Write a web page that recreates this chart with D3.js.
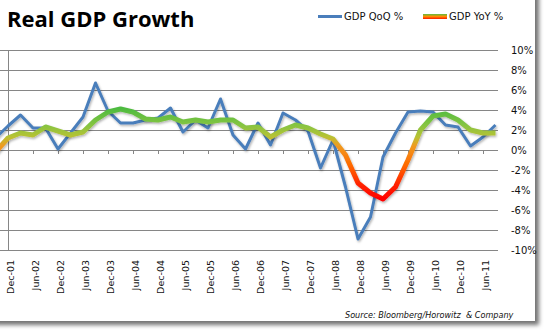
<!DOCTYPE html>
<html>
<head>
<meta charset="utf-8">
<script src="https://d3js.org/d3.v7.min.js"></script>
<style>
  body { margin: 0; background: #fff; }
  text { font-family: "DejaVu Sans", sans-serif; }
</style>
</head>
<body>
<svg id="chart" width="549" height="336"></svg>
<script>
// quarterly data, Sep-01 sits just left of the visible area (picture is cropped)
const quarters = ["Sep-01", "Dec-01",
  "Mar-02", "Jun-02", "Sep-02", "Dec-02",
  "Mar-03", "Jun-03", "Sep-03", "Dec-03",
  "Mar-04", "Jun-04", "Sep-04", "Dec-04",
  "Mar-05", "Jun-05", "Sep-05", "Dec-05",
  "Mar-06", "Jun-06", "Sep-06", "Dec-06",
  "Mar-07", "Jun-07", "Sep-07", "Dec-07",
  "Mar-08", "Jun-08", "Sep-08", "Dec-08",
  "Mar-09", "Jun-09", "Sep-09", "Dec-09",
  "Mar-10", "Jun-10", "Sep-10", "Dec-10",
  "Mar-11", "Jun-11", "Sep-11"];

const gdpQoQ = [1.2, 2.4,
  3.5, 2.2, 2.2, 0.1,
  1.7, 3.3, 6.7, 3.9,
  2.7, 2.7, 3.0, 3.2,
  4.2, 1.8, 3.0, 2.2,
  5.1, 1.5, 0.1, 2.7,
  0.5, 3.7, 3.0, 1.9,
  -1.8, 1.0, -3.7, -8.9,
  -6.7, -0.7, 1.7, 3.8,
  3.9, 3.8, 2.5, 2.3,
  0.4, 1.3, 2.5];

const gdpYoY = [-0.2, 1.2,
  1.7, 1.5, 2.3, 1.9,
  1.5, 1.8, 3.0, 3.8,
  4.1, 3.8, 3.1, 3.0,
  3.3, 2.8, 3.0, 2.8,
  3.0, 3.0, 2.2, 2.3,
  1.3, 2.0, 2.5, 2.2,
  1.6, 1.1, -0.5, -3.3,
  -4.3, -4.9, -3.7, -1.0,
  2.0, 3.4, 3.6, 3.0,
  2.0, 1.7, 1.7];

const tickLabels = ["Dec-01", "Jun-02", "Dec-02", "Jun-03", "Dec-03", "Jun-04", "Dec-04",
  "Jun-05", "Dec-05", "Jun-06", "Dec-06", "Jun-07", "Dec-07", "Jun-08", "Dec-08",
  "Jun-09", "Dec-09", "Jun-10", "Dec-10", "Jun-11"];

const yTicks = [10, 8, 6, 4, 2, 0, -2, -4, -6, -8, -10];

// colour of the YoY line depends on its value
const yoyStops = [
  { v: 4.2, c: "#4cbb3f" },
  { v: 2.5, c: "#85c442" },
  { v: 1.3, c: "#b9c233" },
  { v: 0.4, c: "#f09a20" },
  { v: -1.5, c: "#ff6a00" },
  { v: -3.5, c: "#ff2200" },
  { v: -5.0, c: "#ff0000" }
];

const svg = d3.select("#chart");
const defs = svg.append("defs");

const cardShadow = defs.append("filter").attr("id", "cardShadow")
  .attr("x", "-5%").attr("y", "-5%").attr("width", "115%").attr("height", "115%");
cardShadow.append("feDropShadow")
  .attr("dx", 4).attr("dy", 4).attr("stdDeviation", 2)
  .attr("flood-color", "#000").attr("flood-opacity", 0.55);

const lineShadow = defs.append("filter").attr("id", "lineShadow")
  .attr("x", "-5%").attr("y", "-10%").attr("width", "110%").attr("height", "125%");
lineShadow.append("feDropShadow")
  .attr("dx", 1).attr("dy", 1.5).attr("stdDeviation", 1)
  .attr("flood-color", "#000").attr("flood-opacity", 0.3);

// white card with drop shadow
svg.append("rect")
  .attr("x", -10).attr("y", -10)
  .attr("width", 545).attr("height", 331)
  .attr("fill", "#fff")
  .attr("filter", "url(#cardShadow)");

const x = d3.scalePoint().domain(quarters).range([-4.5, 495.5]);
const y = d3.scaleLinear().domain([-10, 10]).range([250, 50]);

// gridlines
svg.append("g").selectAll("line")
  .data(yTicks).enter().append("line")
  .attr("x1", 0).attr("x2", 498)
  .attr("y1", d => Math.round(y(d)) + 0.5)
  .attr("y2", d => Math.round(y(d)) + 0.5)
  .attr("stroke", "#868686").attr("stroke-width", 1);

// vertical axis line
svg.append("line")
  .attr("x1", x("Dec-01") + 0.5).attr("x2", x("Dec-01") + 0.5)
  .attr("y1", y(10)).attr("y2", y(-10))
  .attr("stroke", "#868686");

// category ticks on the 0% line
svg.append("g").selectAll("line")
  .data(tickLabels).enter().append("line")
  .attr("x1", d => Math.round(x(d)) + 0.5)
  .attr("x2", d => Math.round(x(d)) + 0.5)
  .attr("y1", y(0)).attr("y2", y(0) + 4)
  .attr("stroke", "#868686");

// category labels
svg.append("g").selectAll("text")
  .data(tickLabels).enter().append("text")
  .attr("transform", d => `translate(${x(d) + 6},260) rotate(-90)`)
  .attr("text-anchor", "end")
  .attr("font-size", 9.5)
  .attr("fill", "#111")
  .text(d => d);

// right value labels
svg.append("g").selectAll("text")
  .data(yTicks).enter().append("text")
  .attr("x", 511)
  .attr("y", d => y(d) + 4)
  .attr("font-size", 10)
  .attr("fill", "#111")
  .text(d => d + "%");

// gradient for the YoY line
const grad = defs.append("linearGradient").attr("id", "yoyGrad")
  .attr("gradientUnits", "userSpaceOnUse")
  .attr("x1", 0).attr("x2", 0)
  .attr("y1", y(yoyStops[0].v)).attr("y2", y(yoyStops[yoyStops.length - 1].v));
const vTop = yoyStops[0].v, vBot = yoyStops[yoyStops.length - 1].v;
grad.selectAll("stop").data(yoyStops).enter().append("stop")
  .attr("offset", d => (vTop - d.v) / (vTop - vBot))
  .attr("stop-color", d => d.c);

const line = d3.line().x((d, i) => x(quarters[i])).y(d => y(d));

svg.append("path")
  .datum(gdpQoQ)
  .attr("fill", "none")
  .attr("stroke", "#4a7ebb")
  .attr("stroke-width", 3)
  .attr("stroke-linejoin", "round")
  .attr("filter", "url(#lineShadow)")
  .attr("d", line);

svg.append("path")
  .datum(gdpYoY)
  .attr("fill", "none")
  .attr("stroke", "url(#yoyGrad)")
  .attr("stroke-width", 5)
  .attr("stroke-linejoin", "round")
  .attr("filter", "url(#lineShadow)")
  .attr("d", line);

// title
svg.append("text")
  .attr("x", 7).attr("y", 27)
  .style("font-family", "'Open Sans', sans-serif")
  .attr("font-weight", "bold")
  .attr("font-size", 22)
  .attr("fill", "#000")
  .text("Real GDP Growth");

// legend
const legGrad = defs.append("linearGradient").attr("id", "legGrad")
  .attr("x1", 0).attr("x2", 0).attr("y1", 0).attr("y2", 1);
legGrad.append("stop").attr("offset", 0).attr("stop-color", "#5cbf3f");
legGrad.append("stop").attr("offset", 0.5).attr("stop-color", "#ff8c00");
legGrad.append("stop").attr("offset", 1).attr("stop-color", "#ff1a00");

svg.append("line")
  .attr("x1", 318).attr("x2", 342).attr("y1", 16.5).attr("y2", 16.5)
  .attr("stroke", "#4a7ebb").attr("stroke-width", 3);
svg.append("text")
  .attr("x", 344).attr("y", 20)
  .attr("font-size", 10).attr("fill", "#111")
  .text("GDP QoQ %");

svg.append("rect")
  .attr("x", 423).attr("y", 14).attr("width", 24).attr("height", 5)
  .attr("fill", "url(#legGrad)");
svg.append("text")
  .attr("x", 449).attr("y", 20)
  .attr("font-size", 10).attr("fill", "#111")
  .text("GDP YoY %");

// source note
svg.append("text")
  .attr("x", 345).attr("y", 318)
  .attr("font-size", 8.1)
  .attr("font-style", "italic")
  .attr("fill", "#111")
  .style("white-space", "pre")
  .text("Source: Bloomberg/Horowitz  & Company");
</script>
</body>
</html>
